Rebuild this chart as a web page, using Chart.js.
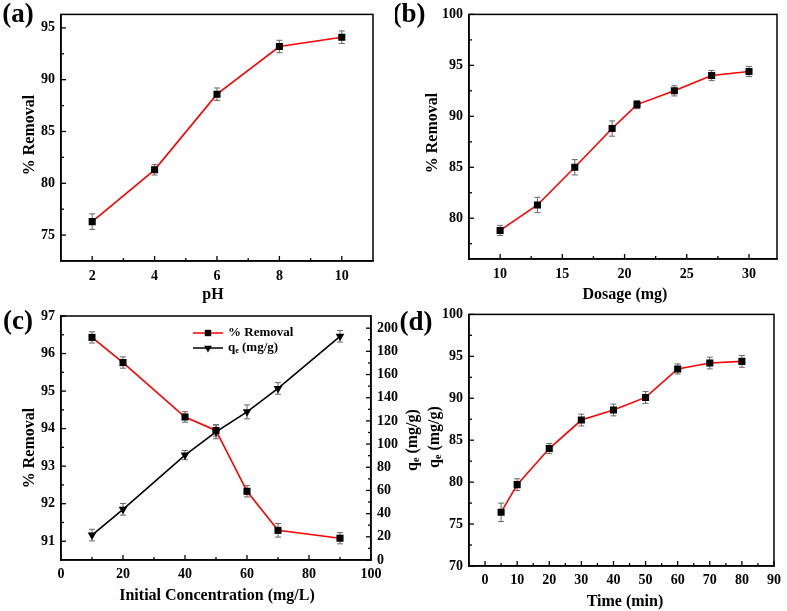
<!DOCTYPE html>
<html>
<head>
<meta charset="utf-8">
<script src="https://cdn.jsdelivr.net/npm/chart.js@4.4.1/dist/chart.umd.min.js"></script>
<style>
  body { margin: 0; background: #fff; }
  #wrap { position: relative; width: 787px; height: 611px; overflow: hidden; background: #fff; }
  canvas { position: absolute; }
</style>
</head>
<body>
<div id="wrap">
  <canvas id="chartA" width="395" height="305" style="left:0;top:0"></canvas>
  <canvas id="chartB" width="392" height="305" style="left:395px;top:0"></canvas>
  <canvas id="chartC" width="430" height="311" style="left:0;top:300px"></canvas>
  <canvas id="chartD" width="392" height="311" style="left:395px;top:300px"></canvas>
</div>
<script>
// (a) effect of pH
const phValues = [2, 4, 6, 8, 10];
const phRemoval = [76.3, 81.3, 88.6, 93.2, 94.1];
const phError = [0.75, 0.5, 0.6, 0.6, 0.6];
const phTicksX = [2, 4, 6, 8, 10];
const phTicksY = [75, 80, 85, 90, 95];

// (b) effect of dosage
const dosageValues = [10, 13, 16, 19, 21, 24, 27, 30];
const dosageRemoval = [78.8, 81.3, 85.0, 88.8, 91.15, 92.5, 94.0, 94.4];
const dosageError = [0.5, 0.75, 0.75, 0.75, 0.4, 0.5, 0.5, 0.5];
const dosageTicksX = [10, 15, 20, 25, 30];
const dosageTicksY = [80, 85, 90, 95, 100];

// (c) effect of initial concentration
const concValues = [10, 20, 40, 50, 60, 70, 90];
const concRemoval = [96.43, 95.76, 94.31, 93.95, 92.33, 91.29, 91.08];
const concRemovalError = [0.15, 0.15, 0.14, 0.15, 0.15, 0.18, 0.15];
const concQe = [21.5, 43.7, 90.5, 110.6, 127.8, 148.0, 193.0];
const concQeError = [5, 5, 4, 6, 6, 5, 5];
const concTicksX = [0, 20, 40, 60, 80, 100];
const concTicksY = [91, 92, 93, 94, 95, 96, 97];
const concTicksY2 = [0, 20, 40, 60, 80, 100, 120, 140, 160, 180, 200];

// (d) effect of contact time
const timeValues = [5, 10, 20, 30, 40, 50, 60, 70, 80];
const timeRemoval = [76.4, 79.7, 84.0, 87.4, 88.6, 90.1, 93.5, 94.2, 94.4];
const timeError = [1.1, 0.7, 0.6, 0.7, 0.7, 0.7, 0.6, 0.7, 0.7];
const timeTicksX = [0, 10, 20, 30, 40, 50, 60, 70, 80, 90];
const timeTicksY = [70, 75, 80, 85, 90, 95, 100];

const FONT = '"Liberation Serif", "Times New Roman", serif';
Chart.defaults.font.family = FONT;
Chart.defaults.font.weight = 'bold';
Chart.defaults.font.size = 14;
Chart.defaults.color = '#000';

function points(xs, ys) {
  return xs.map((x, i) => ({ x: x, y: ys[i] }));
}

function axis(pos, min, max, ticks, size, pad) {
  return {
    type: 'linear', position: pos, min: min, max: max,
    afterBuildTicks: s => { s.ticks = ticks.map(v => ({ value: v })); },
    afterFit: s => { if (s.isHorizontal()) s.height = size; else s.width = size; },
    grid: { display: true, drawOnChartArea: false, drawTicks: false },
    border: { display: true, color: '#000', width: 1.5 },
    ticks: { padding: pad, color: '#000', autoSkip: false, maxRotation: 0 }
  };
}

// draws "q" with subscript e, or plain text
function drawText(ctx, t) {
  ctx.save();
  ctx.translate(t.x, t.y);
  if (t.rot) ctx.rotate(-Math.PI / 2);
  ctx.fillStyle = '#000';
  ctx.textBaseline = 'middle';
  const big = 'bold ' + t.size + 'px ' + FONT;
  const small = 'bold ' + Math.round(t.size * 0.62) + 'px ' + FONT;
  const parts = t.sub ? [[t.text[0], big, 0], [t.sub, small, t.size * 0.22], [t.text[1], big, 0]] : [[t.text, big, 0]];
  let total = 0;
  parts.forEach(p => { ctx.font = p[1]; total += ctx.measureText(p[0]).width; });
  let x = t.align === 'left' ? 0 : -total / 2;
  ctx.textAlign = 'left';
  parts.forEach(p => {
    ctx.font = p[1];
    ctx.fillText(p[0], x, p[2]);
    x += ctx.measureText(p[0]).width;
  });
  ctx.restore();
}

const panelPlugin = {
  id: 'panel',
  beforeDatasetsDraw(chart, args, opts) {
    const ctx = chart.ctx;
    const xs = chart.scales.x;
    ctx.save();
    ctx.strokeStyle = '#666';
    ctx.lineWidth = 1;
    chart.data.datasets.forEach(ds => {
      if (!ds.errors) return;
      const ys = chart.scales[ds.yAxisID || 'y'];
      ds.data.forEach((p, i) => {
        const px = xs.getPixelForValue(p.x);
        const top = ys.getPixelForValue(p.y + ds.errors[i]);
        const bot = ys.getPixelForValue(p.y - ds.errors[i]);
        ctx.beginPath();
        ctx.moveTo(px, top); ctx.lineTo(px, bot);
        ctx.moveTo(px - 3, top); ctx.lineTo(px + 3, top);
        ctx.moveTo(px - 3, bot); ctx.lineTo(px + 3, bot);
        ctx.stroke();
      });
    });
    ctx.restore();
  },
  afterDraw(chart, args, opts) {
    const ctx = chart.ctx;
    const a = chart.chartArea;
    ctx.save();
    ctx.strokeStyle = '#000';
    ctx.lineWidth = 1.5;
    ctx.strokeRect(a.left, a.top, a.right - a.left, a.bottom - a.top);
    ctx.lineWidth = 1.3;
    // inward tick marks
    const marks = (scaleId, vals, len) => {
      const s = chart.scales[scaleId];
      vals.forEach(v => {
        const p = s.getPixelForValue(v);
        ctx.beginPath();
        if (s.isHorizontal()) { ctx.moveTo(p, a.bottom); ctx.lineTo(p, a.bottom - len); }
        else if (s.position === 'left') { ctx.moveTo(a.left, p); ctx.lineTo(a.left + len, p); }
        else { ctx.moveTo(a.right, p); ctx.lineTo(a.right - len, p); }
        ctx.stroke();
      });
    };
    opts.major.forEach(m => marks(m[0], m[1], 5));
    opts.minor.forEach(m => marks(m[0], m[1], 3));
    ctx.restore();

    (opts.texts || []).forEach(t => drawText(ctx, t));

    // Origin-style legend with line + marker
    (opts.legend || []).forEach(item => {
      ctx.save();
      ctx.strokeStyle = item.color;
      ctx.lineWidth = 1.5;
      ctx.beginPath();
      ctx.moveTo(item.x, item.y); ctx.lineTo(item.x + 30, item.y);
      ctx.stroke();
      Chart.helpers.drawPoint(ctx, { pointStyle: item.style, radius: 4.5, rotation: item.rotation || 0 }, item.x + 15, item.y);
      ctx.restore();
      drawText(ctx, { text: item.text, sub: item.sub, x: item.x + 35, y: item.y, size: 13, align: 'left' });
    });
  }
};

function makeChart(id, datasets, scales, pad, panel) {
  return new Chart(document.getElementById(id), {
    type: 'line',
    data: { datasets: datasets },
    options: {
      responsive: false,
      animation: false,
      layout: { padding: { top: pad[0], right: pad[1], left: 0, bottom: 0 } },
      plugins: { legend: { display: false }, tooltip: { enabled: false }, panel: panel },
      scales: scales
    },
    plugins: [panelPlugin]
  });
}

function removalSet(xs, ys, errs) {
  return {
    data: points(xs, ys), errors: errs,
    borderColor: '#ff0000', borderWidth: 1.6, tension: 0,
    pointStyle: 'rect', pointRadius: 5, pointBackgroundColor: '#000', pointBorderColor: '#000', pointBorderWidth: 0
  };
}

const mids = arr => arr.slice(0, -1).map((v, i) => (v + arr[i + 1]) / 2);

// (a)
makeChart('chartA',
  [removalSet(phValues, phRemoval, phError)],
  { x: axis('bottom', 1, 11, phTicksX, 44, 7), y: axis('left', 72.5, 96.3, phTicksY, 61, 6) },
  [6, 22],
  {
    major: [['x', phTicksX], ['y', phTicksY]],
    minor: [['x', mids(phTicksX)], ['y', mids(phTicksY)]],
    texts: [
      { text: '(a)', x: 18, y: 15, size: 27 },
      { text: 'pH', x: 213, y: 295, size: 16 },
      { text: '% Removal', x: 30, y: 135, size: 16, rot: true }
    ]
  });

// (b)
makeChart('chartB',
  [removalSet(dosageValues, dosageRemoval, dosageError)],
  { x: axis('bottom', 7.5, 32.25, dosageTicksX, 46, 7), y: axis('left', 76, 100, dosageTicksY, 74, 6) },
  [6, 10],
  {
    major: [['x', dosageTicksX], ['y', dosageTicksY]],
    minor: [['x', mids(dosageTicksX)], ['y', [77.5].concat(mids(dosageTicksY))]],
    texts: [
      { text: '(b)', x: 14, y: 15, size: 27 },
      { text: 'Dosage (mg)', x: 230, y: 295, size: 16 },
      { text: '% Removal', x: 38, y: 133, size: 16, rot: true }
    ]
  });

// (c)
const qeSet = {
  data: points(concValues, concQe), errors: concQeError, yAxisID: 'y2',
  borderColor: '#000', borderWidth: 1.6, tension: 0,
  pointStyle: 'triangle', rotation: 180, pointRadius: 5, pointBackgroundColor: '#000', pointBorderColor: '#000', pointBorderWidth: 0
};
makeChart('chartC',
  [removalSet(concValues, concRemoval, concRemovalError), qeSet],
  {
    x: axis('bottom', 0, 100, concTicksX, 51, 6),
    y: axis('left', 90.5, 97, concTicksY, 61, 6),
    y2: axis('right', 0, 210.5, concTicksY2, 59, 6)
  },
  [16, 0],
  {
    major: [['x', concTicksX], ['y', concTicksY], ['y2', concTicksY2]],
    minor: [['x', mids(concTicksX)], ['y', mids(concTicksY)], ['y2', mids(concTicksY2)]],
    texts: [
      { text: '(c)', x: 18, y: 22, size: 27 },
      { text: 'Initial Concentration (mg/L)', x: 217, y: 296, size: 16 },
      { text: '% Removal', x: 30, y: 148, size: 16, rot: true },
      { text: ['q', ' (mg/g)'], sub: 'e', x: 413, y: 140, size: 16, rot: true }
    ],
    legend: [
      { text: '% Removal', x: 193, y: 33, color: '#ff0000', style: 'rect' },
      { text: ['q', ' (mg/g)'], sub: 'e', x: 193, y: 48, color: '#000', style: 'triangle', rotation: 180 }
    ]
  });

// (d)
makeChart('chartD',
  [removalSet(timeValues, timeRemoval, timeError)],
  { x: axis('bottom', -5, 90, timeTicksX, 45, 6), y: axis('left', 70, 100, timeTicksY, 74, 6) },
  [12.5, 7],
  {
    major: [['x', timeTicksX], ['y', timeTicksY]],
    minor: [['x', mids(timeTicksX)], ['y', mids(timeTicksY)]],
    texts: [
      { text: '(d)', x: 21, y: 23, size: 27 },
      { text: 'Time (min)', x: 230, y: 302, size: 16 },
      { text: ['q', ' (mg/g)'], sub: 'e', x: 40, y: 137, size: 16, rot: true }
    ]
  });
</script>
</body>
</html>
